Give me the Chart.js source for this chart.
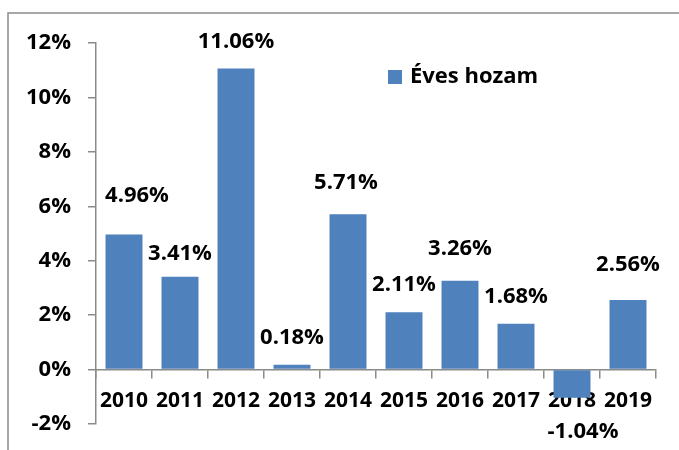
<!DOCTYPE html>
<html>
<head>
<meta charset="utf-8">
<script src="https://cdn.jsdelivr.net/npm/chart.js@4/dist/chart.umd.min.js"></script>
<style>
  html, body { margin: 0; padding: 0; background: #ffffff; }
  #wrap { position: relative; width: 679px; height: 450px; }
</style>
</head>
<body>
<div id="wrap"><canvas id="c" width="679" height="450"></canvas></div>
<script>
// ---- data ----
const years = ['2010', '2011', '2012', '2013', '2014', '2015', '2016', '2017', '2018', '2019'];
const annualReturn = [4.96, 3.41, 11.06, 0.18, 5.71, 2.11, 3.26, 1.68, -1.04, 2.56];
const seriesName = 'Éves hozam';
const yTicks = [-2, 0, 2, 4, 6, 8, 10, 12];

const FONT = '"Open Sans", Lato, sans-serif';
const FS = 22;
const FS_X = 21;
const AXIS_GRAY = '#8a8a8a';
const BAR_BLUE = '#4F81BD';

// frame of the chart object (top and left edges visible)
const framePlugin = {
  id: 'frame',
  beforeDraw(chart, args, opts) {
    const ctx = chart.ctx;
    ctx.save();
    ctx.strokeStyle = opts.color;
    ctx.lineWidth = opts.width;
    ctx.beginPath();
    ctx.moveTo(opts.left, chart.height);
    ctx.lineTo(opts.left, opts.top);
    ctx.lineTo(chart.width, opts.top);
    ctx.stroke();
    ctx.restore();
  }
};

// value labels above / below the bars
const valueLabels = {
  id: 'valueLabels',
  afterDatasetsDraw(chart, args, opts) {
    const ctx = chart.ctx;
    const meta = chart.getDatasetMeta(0);
    const data = chart.data.datasets[0].data;
    ctx.save();
    ctx.font = 'bold ' + opts.size + 'px ' + FONT;
    ctx.fillStyle = '#000';
    ctx.textAlign = 'center';
    ctx.textBaseline = 'middle';
    meta.data.forEach((bar, i) => {
      const v = data[i];
      const n = (opts.nudge && opts.nudge[i]) || [0, 0];
      const y = v >= 0 ? bar.y - opts.offset : bar.y + opts.negOffset;
      ctx.fillText(v.toFixed(2) + '%', bar.x + n[0], y + n[1]);
    });
    ctx.restore();
  }
};

// legend drawn inside the plot area
const innerLegend = {
  id: 'innerLegend',
  afterDraw(chart, args, opts) {
    const ctx = chart.ctx;
    const ds = chart.data.datasets[0];
    ctx.save();
    ctx.fillStyle = ds.backgroundColor;
    ctx.fillRect(opts.x, opts.y - opts.box / 2, opts.box, opts.box);
    ctx.font = 'bold ' + opts.size + 'px ' + FONT;
    ctx.fillStyle = '#000';
    ctx.textAlign = 'left';
    ctx.textBaseline = 'middle';
    ctx.fillText(ds.label, opts.x + opts.box + opts.gap, opts.y);
    ctx.restore();
  }
};

new Chart(document.getElementById('c'), {
  type: 'bar',
  data: {
    labels: years,
    datasets: [{
      label: seriesName,
      data: annualReturn,
      backgroundColor: BAR_BLUE,
      borderWidth: 0,
      categoryPercentage: 1.0,
      barPercentage: 0.66
    }]
  },
  plugins: [framePlugin, valueLabels, innerLegend],
  options: {
    responsive: false,
    animation: false,
    devicePixelRatio: 1,
    layout: { padding: { left: 0, right: 23, top: 43, bottom: 26 } },
    plugins: {
      legend: { display: false },
      tooltip: { enabled: false },
      frame: { left: 8, top: 13, color: '#8c8c8c', width: 1.5 },
      valueLabels: {
        size: FS, offset: 27, negOffset: 34,
        nudge: [[13, -12], [0, 4], [0, 0], [0, 0], [-2, -4], [0, 0], [0, -5], [0, 0], [11, 0], [0, -8]]
      },
      innerLegend: { x: 388, y: 77, box: 14, gap: 8, size: FS }
    },
    scales: {
      x: {
        position: { y: 0 },
        offset: true,
        grid: { display: true, offset: true, drawOnChartArea: false, drawTicks: true, tickLength: 8, color: AXIS_GRAY, lineWidth: 1.5 },
        border: { display: true, color: AXIS_GRAY, width: 1.5 },
        ticks: { color: '#000', padding: 11, maxRotation: 0, autoSkip: false, font: { family: FONT, size: FS_X, weight: 'bold' } }
      },
      y: {
        min: yTicks[0],
        max: yTicks[yTicks.length - 1],
        afterBuildTicks(scale) { scale.ticks = yTicks.map(v => ({ value: v })); },
        afterFit(scale) { scale.width = 96; scale.paddingTop = 0; scale.paddingBottom = 0; },
        grid: { display: true, drawOnChartArea: false, drawTicks: true, tickLength: 8, color: AXIS_GRAY, lineWidth: 1.5 },
        border: { display: true, color: AXIS_GRAY, width: 1.5 },
        ticks: { color: '#000', padding: 17, callback: v => v + '%', font: { family: FONT, size: FS, weight: 'bold' } }
      }
    }
  }
});
</script>
</body>
</html>
